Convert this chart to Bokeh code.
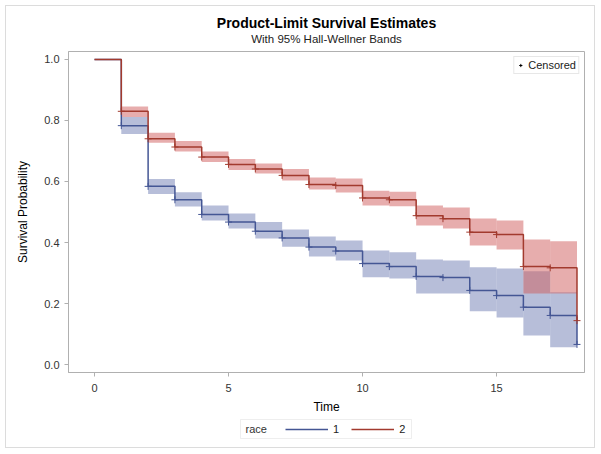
from bokeh.plotting import figure
from bokeh.layouts import column
from bokeh.models import Legend, LegendItem, Title, FixedTicker, Range1d, Label, BoxAnnotation
from bokeh.embed import file_html
from bokeh.resources import INLINE

# ---- data ----
time_pts = [0, 1, 2, 3, 4, 5, 6, 7, 8, 9, 10, 11, 12, 13, 14, 15, 16, 17, 18]
surv_race1 = [1.0, 0.783, 0.584, 0.540, 0.492, 0.467, 0.437, 0.415, 0.385, 0.372,
              0.331, 0.321, 0.289, 0.285, 0.243, 0.226, 0.188, 0.161, 0.066]
surv_race2 = [1.0, 0.830, 0.740, 0.713, 0.680, 0.656, 0.641, 0.620, 0.590, 0.587,
              0.546, 0.540, 0.488, 0.478, 0.434, 0.426, 0.321, 0.317, 0.144]

band_start = [1, 2, 3, 4, 5, 6, 7, 8, 9, 10, 11, 12, 13, 14, 15, 16, 17]
band_end = [2, 3, 4, 5, 6, 7, 8, 9, 10, 11, 12, 13, 14, 15, 16, 17, 18]
lower_race1 = [0.756, 0.559, 0.518, 0.472, 0.446, 0.413, 0.386, 0.354, 0.341,
               0.286, 0.282, 0.233, 0.233, 0.175, 0.154, 0.095, 0.057]
upper_race1 = [0.811, 0.608, 0.565, 0.521, 0.495, 0.467, 0.443, 0.420, 0.407,
               0.374, 0.368, 0.344, 0.341, 0.319, 0.315, 0.306, 0.237]
lower_race2 = [0.811, 0.727, 0.698, 0.664, 0.638, 0.626, 0.603, 0.574, 0.564,
               0.521, 0.519, 0.456, 0.446, 0.390, 0.377, 0.233, 0.233]
upper_race2 = [0.846, 0.760, 0.733, 0.698, 0.674, 0.659, 0.641, 0.613, 0.610,
               0.570, 0.566, 0.521, 0.515, 0.479, 0.472, 0.410, 0.404]

censor_idx_race1 = [1, 2, 3, 4, 5, 6, 7, 8, 9, 10, 11, 12, 13, 14, 15, 16, 17, 18]
censor_idx_race2 = [1, 2, 3, 4, 5, 6, 7, 8, 9, 10, 11, 12, 13, 14, 15, 16, 17, 18]

x_ticks = [0, 5, 10, 15]
y_ticks = [0.0, 0.2, 0.4, 0.6, 0.8, 1.0]

title_text = "Product-Limit Survival Estimates"
subtitle_text = "With 95% Hall-Wellner Bands"
legend_title = "race"
group_labels = ["1", "2"]

BLUE = "#445694"
RED = "#A23A2E"
BLUE_FILL = "#6F7EB3"
RED_FILL = "#D05B5B"
FONT = "Liberation Sans"
GRAY = "#b0b0b0"
NAN = float("nan")

W = 600
FL, FR = 68, 584   # frame left / right (px)
H1, H2 = 416, 37

p = figure(width=W, height=H1, output_backend="svg", toolbar_location=None,
           x_range=Range1d(-0.97, 18.28), y_range=Range1d(-0.026, 1.026),
           min_border_left=FL, min_border_right=W - FR, min_border_top=51,
           min_border_bottom=44, title=None)
p.border_fill_color = None

p.add_layout(Title(text=" ", text_font_size="4px", standoff=0), "above")
p.add_layout(Title(text=subtitle_text, align="center", text_font=FONT,
                   text_font_size="11.5px", text_font_style="normal",
                   text_color="#222222", standoff=0), "above")
p.add_layout(Title(text=title_text, align="center", text_font=FONT,
                   text_font_size="14px", text_font_style="bold",
                   text_color="#000000", standoff=0, text_line_height=1.0), "above")

p.xgrid.visible = False
p.ygrid.visible = False
p.outline_line_color = GRAY
p.outline_line_width = 1

for ax in (p.xaxis[0], p.yaxis[0]):
    ax.axis_line_color = GRAY
    ax.major_tick_line_color = GRAY
    ax.minor_tick_line_color = None
    ax.major_tick_out = 4
    ax.major_tick_in = 0
    ax.major_label_text_font = FONT
    ax.major_label_text_font_size = "11px"
    ax.major_label_text_color = "#333333"
    ax.axis_label_text_font = FONT
    ax.axis_label_text_font_size = "12px"
    ax.axis_label_text_font_style = "normal"
    ax.axis_label_text_color = "#000000"

p.xaxis.ticker = FixedTicker(ticks=x_ticks)
p.yaxis.ticker = FixedTicker(ticks=y_ticks)
p.yaxis.major_label_overrides = {v: f"{v:.1f}" for v in y_ticks}
p.xaxis.axis_label = "Time"
p.yaxis.axis_label = "Survival Probability"
p.xaxis.major_label_standoff = 7
p.xaxis.axis_label_standoff = 5
p.yaxis.major_label_standoff = 5
p.yaxis.axis_label_standoff = 11

# bands
p.quad(left=band_start, right=band_end, bottom=lower_race1, top=upper_race1,
       fill_color=BLUE_FILL, fill_alpha=0.5, line_color=None)
p.quad(left=band_start, right=band_end, bottom=lower_race2, top=upper_race2,
       fill_color=RED_FILL, fill_alpha=0.5, line_color=None)

# step lines
r1 = p.step(x=time_pts, y=surv_race1, mode="after", line_color=BLUE, line_width=1.5)
r2 = p.step(x=time_pts, y=surv_race2, mode="after", line_color=RED, line_width=1.5)

# censor marks
p.scatter(x=[time_pts[i] for i in censor_idx_race1],
          y=[surv_race1[i] for i in censor_idx_race1],
          marker="cross", size=7, line_color=BLUE, line_width=1)
p.scatter(x=[time_pts[i] for i in censor_idx_race2],
          y=[surv_race2[i] for i in censor_idx_race2],
          marker="cross", size=7, line_color=RED, line_width=1)

# legend proxy for the censor symbol
dummy = p.scatter(x=[NAN], y=[NAN], marker="cross", size=7, line_color="black", line_width=1)

leg_c = Legend(items=[LegendItem(label="Censored", renderers=[dummy])],
               location="top_right", label_text_font=FONT, label_text_font_size="11px",
               label_text_color="#222222",
               glyph_width=8, glyph_height=10, label_standoff=4, padding=2,
               margin=5, border_line_color="#d0d0d0", spacing=0,
               label_height=10, label_width=0)
p.add_layout(leg_c)

# ---- group legend strip below the chart (frame aligned with the chart's frame) ----
lg = figure(width=W, height=H2, output_backend="svg", toolbar_location=None,
            x_range=Range1d(FL, FR), y_range=Range1d(0, H2),
            min_border_left=FL, min_border_right=W - FR, min_border_top=0,
            min_border_bottom=0, x_axis_location=None, y_axis_location=None,
            title=None)
lg.border_fill_color = None
lg.background_fill_color = None
lg.xgrid.visible = False
lg.ygrid.visible = False
lg.outline_line_color = None

l1 = lg.line(x=[NAN], y=[NAN], line_color=BLUE, line_width=1.5)
l2 = lg.line(x=[NAN], y=[NAN], line_color=RED, line_width=1.5)

leg_r = Legend(items=[LegendItem(label=group_labels[0], renderers=[l1]),
                      LegendItem(label=group_labels[1], renderers=[l2])],
               orientation="horizontal", location=(285 - FL, 18.5),
               label_text_font=FONT, label_text_font_size="11px",
               label_text_color="#222222",
               glyph_width=43, glyph_height=12, label_standoff=5, spacing=12,
               padding=0, margin=0, border_line_color=None,
               background_fill_alpha=0, label_height=12, label_width=6)
lg.add_layout(leg_r)
lg.add_layout(Label(x=245, y=24.5, text=legend_title, text_font=FONT,
                    text_font_size="11px", text_color="#333333",
                    text_baseline="middle"))
lg.add_layout(BoxAnnotation(left=240, right=411, bottom=15, top=34,
                            fill_alpha=0, line_color="#c8c8c8", line_width=1))

layout = column(p, lg, spacing=0)
layout.styles = {"outline": "1px solid #dcdcdc", "outline-offset": "-6px"}
open("out.html", "w").write(file_html(layout, INLINE))
